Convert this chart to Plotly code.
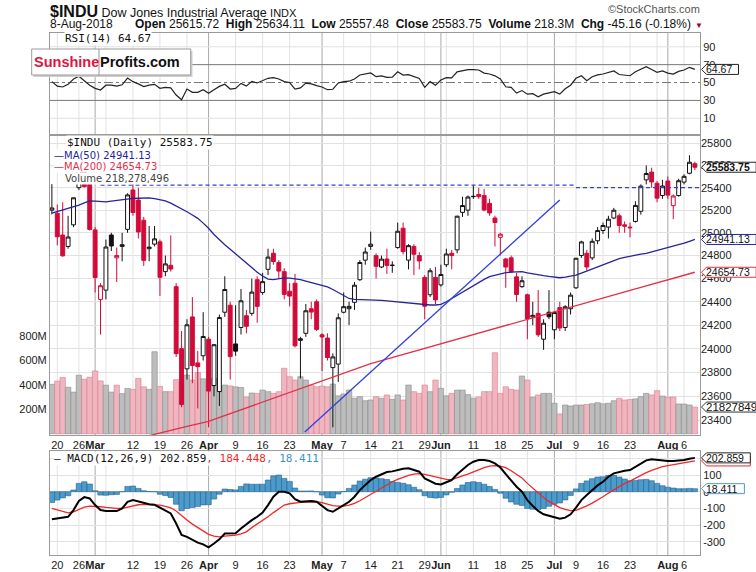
import math
import plotly.graph_objects as go

# $INDU daily bars, 16-Feb-2018 .. 8-Aug-2018
OPEN = [25200, 25172, 24980, 24880, 25070, 25400, 25710, 25430, 25025, 24420,
        24500, 24980, 24780, 24880, 25030, 25380, 25290, 25110, 24860, 24900,
        24920, 24660, 24715, 24530, 24000, 23830, 24270, 23880, 23940, 24080,
        23690, 23640, 24310, 24370, 24040, 24180, 24280, 24300, 24590, 24480,
        24680, 24820, 24740, 24660, 24490, 24560, 24070, 24130, 24340, 24400,
        24117, 24090, 23840, 23870, 24310, 24340, 24395, 24590, 24760, 24880,
        24800, 24700, 24770, 24715, 24870, 25040, 24760, 24880, 24800, 24610,
        24460, 24610, 24545, 24720, 24820, 24850, 25180, 25200, 25320, 25340,
        25330, 25260, 25130, 24960, 24770, 24780, 24615, 24530, 24460, 24270,
        24300, 24080, 24310, 24160, 24350, 24180, 24340, 24520, 24800, 24820,
        24780, 24930, 25020, 25050, 25130, 25150, 25070, 25050, 25100, 25190,
        25470, 25540, 25440, 25330, 25460, 25240, 25330, 25450, 25530, 25615.72]
HIGH = [25432, 25250, 25270, 25150, 25310, 25710, 25800, 25500, 25050, 24560,
        24940, 25000, 24870, 25000, 25350, 25450, 25400, 25140, 25060, 25060,
        24940, 24800, 24977, 24560, 24150, 24250, 24440, 23980, 24310, 24100,
        24040, 24290, 24620, 24400, 24370, 24510, 24330, 24600, 24620, 24650,
        24860, 24860, 24760, 24690, 24560, 24640, 24100, 24380, 24400, 24420,
        24130, 24130, 23960, 24300, 24480, 24400, 24570, 24760, 24870, 25010,
        24820, 24800, 24860, 24750, 25090, 25090, 24900, 24900, 24830, 24630,
        24690, 24700, 24720, 24860, 24850, 25150, 25320, 25330, 25420, 25400,
        25390, 25300, 25150, 25000, 24780, 24800, 24650, 24620, 24470, 24400,
        24500, 24250, 24500, 24320, 24400, 24370, 24480, 24780, 24930, 24850,
        24950, 25050, 25090, 25150, 25220, 25170, 25100, 25090, 25280, 25430,
        25600, 25580, 25460, 25470, 25500, 25340, 25480, 25520, 25692, 25634.11]
LOW = [25163, 24890, 24790, 24860, 25050, 25380, 25400, 25020, 24480, 24120,
       24420, 24840, 24570, 24750, 25000, 25150, 24950, 24710, 24750, 24880,
       24450, 24620, 24660, 23930, 23510, 23740, 23710, 23500, 23900, 23344,
       23600, 23520, 24270, 23740, 23940, 24120, 24130, 24280, 24220, 24460,
       24630, 24720, 24600, 24420, 24360, 24010, 23750, 24100, 24250, 24150,
       23810, 23900, 23344, 23720, 24300, 24200, 24330, 24580, 24720, 24850,
       24600, 24690, 24640, 24650, 24860, 24810, 24680, 24630, 24680, 24250,
       24440, 24380, 24530, 24700, 24680, 24820, 25140, 25150, 25300, 25300,
       25190, 25150, 24880, 24800, 24520, 24650, 24400, 24520, 24080, 24200,
       24100, 23990, 24250, 24080, 24150, 24150, 24290, 24510, 24780, 24670,
       24760, 24900, 24990, 24950, 25120, 25000, 25000, 24960, 25090, 25160,
       25430, 25400, 25270, 25300, 25300, 25120, 25320, 25430, 25520, 25557.48]
CLOSE = [25219.38, 24964.75, 24797.78, 24962.48, 25309.99, 25709.27, 25410.03, 25029.20, 24608.98, 24538.06,
         24874.76, 24884.12, 24801.36, 24895.21, 25335.74, 25178.61, 25007.03, 24758.12, 24873.66, 24946.51,
         24610.91, 24727.27, 24682.31, 23957.89, 23533.20, 24202.60, 23857.71, 23848.42, 24103.11, 23644.19,
         24033.36, 24264.30, 24505.22, 23932.76, 23979.10, 24408.00, 24189.45, 24483.05, 24360.14, 24573.04,
         24786.63, 24748.07, 24664.89, 24462.94, 24448.69, 24024.13, 24083.83, 24322.34, 24311.19, 24163.15,
         24099.05, 23924.98, 23930.15, 24262.51, 24357.32, 24360.21, 24542.54, 24739.53, 24831.17, 24899.41,
         24706.41, 24768.93, 24713.98, 24715.09, 25013.29, 24834.41, 24886.81, 24811.76, 24753.09, 24361.45,
         24667.78, 24415.84, 24635.21, 24813.69, 24799.98, 25146.39, 25241.41, 25316.53, 25322.31, 25320.73,
         25201.20, 25175.31, 25090.48, 24987.47, 24700.21, 24657.80, 24461.70, 24580.89, 24252.80, 24283.11,
         24117.59, 24216.05, 24271.41, 24307.18, 24174.82, 24356.74, 24456.48, 24776.59, 24919.66, 24700.45,
         24924.89, 25019.41, 25064.36, 25119.89, 25199.29, 25064.50, 25058.12, 25044.29, 25241.94, 25414.10,
         25527.07, 25451.06, 25306.83, 25415.19, 25333.82, 25326.16, 25462.58, 25502.18, 25628.91, 25583.75]
PREV_CLOSE = 25200.37  # close of the bar before the first one shown

# volume in millions
VOLUME_M = [404, 430, 460, 380, 340, 478, 446, 462, 513, 432,
            397, 340, 397, 328, 370, 363, 453, 384, 363, 670,
            387, 344, 344, 442, 413, 480, 439, 500, 449, 415,
            453, 384, 398, 391, 383, 378, 300, 333, 330, 357,
            344, 330, 344, 535, 466, 439, 466, 439, 398, 384,
            390, 384, 406, 310, 325, 357, 290, 303, 270, 276,
            303, 290, 317, 282, 317, 276, 398, 344, 330, 398,
            344, 439, 371, 310, 330, 357, 357, 320, 290, 300,
            344, 344, 662, 330, 384, 363, 357, 472, 439, 298,
            317, 330, 330, 249, 162, 235, 227, 235, 235, 240,
            245, 254, 245, 249, 270, 290, 276, 280, 285, 303,
            330, 317, 352, 308, 300, 300, 243, 243, 235, 218.278496]

MA50 = [25174, 25187, 25200, 25213, 25226, 25245, 25264, 25282, 25280, 25276,
        25273, 25280, 25287, 25294, 25301, 25304, 25306, 25308, 25309, 25302,
        25292, 25282, 25262, 25238, 25214, 25186, 25157, 25127, 25085, 25040,
        24985, 24936, 24895, 24855, 24815, 24775, 24730, 24690, 24655, 24622,
        24595, 24590, 24600, 24605, 24603, 24598, 24590, 24578, 24566, 24555,
        24542, 24528, 24505, 24477, 24450, 24428, 24420, 24419, 24419, 24420,
        24416, 24412, 24407, 24402, 24397, 24391, 24386, 24381, 24377, 24373,
        24372, 24372, 24378, 24400, 24428, 24458, 24487, 24515, 24544, 24569,
        24593, 24617, 24630, 24641, 24651, 24655, 24658, 24660, 24650, 24640,
        24632, 24625, 24618, 24611, 24607, 24612, 24620, 24630, 24648, 24666,
        24684, 24703, 24722, 24742, 24761, 24773, 24785, 24796, 24804, 24812,
        24819, 24831, 24843, 24854, 24867, 24880, 24892, 24908, 24925, 24941.13]
MA200 = [23080, 23091, 23102, 23113, 23124, 23135, 23146, 23157, 23168, 23179,
         23190, 23201, 23212, 23223, 23234, 23245, 23256, 23267, 23278, 23290,
         23300, 23310, 23320, 23331, 23341, 23352, 23362, 23372, 23383, 23393,
         23409, 23425, 23441, 23457, 23473, 23490, 23506, 23522, 23538, 23555,
         23571, 23587, 23603, 23620, 23636, 23652, 23668, 23684, 23701, 23717,
         23733, 23749, 23766, 23782, 23798, 23814, 23831, 23848, 23861, 23874,
         23887, 23900, 23913, 23926, 23939, 23952, 23965, 23978, 23991, 24004,
         24017, 24030, 24043, 24056, 24069, 24082, 24095, 24108, 24121, 24134,
         24147, 24160, 24173, 24186, 24199, 24212, 24225, 24238, 24251, 24264,
         24277, 24290, 24303, 24316, 24329, 24342, 24355, 24368, 24381, 24394,
         24407, 24420, 24433, 24446, 24459, 24472, 24485, 24498, 24511, 24524,
         24537, 24550, 24563, 24576, 24589, 24602, 24615, 24628, 24641, 24654.73]

RSI = [51, 46, 45, 48, 54, 57, 52, 47, 43.5, 41.6,
       47, 47, 46, 47.5, 55, 51, 48.5, 45.5, 47, 48,
       43.5, 44.6, 44, 36, 30.7, 42.7, 39, 39, 42, 37.9,
       42, 45.7, 48, 42.7, 43.5, 49, 46, 51.3, 49.5, 52.5,
       54.7, 55.4, 54, 51, 50, 42.7, 44, 49.4, 48.5, 46.5,
       45, 42, 42.5, 49.5, 51, 51.5, 54, 58.4, 59.5, 60.7,
       56.5, 57.5, 55.8, 56, 62, 58.4, 58.8, 56.5, 54.5, 44.6,
       51, 47, 52.8, 55.5, 55.2, 62, 63.5, 64.5, 64.5, 64,
       60.5, 59.5, 57.5, 54, 45.3, 44.5, 38.2, 41, 37, 37.5,
       34, 37, 38.5, 39.7, 37, 43, 47, 54.7, 57.6, 52,
       56.5, 58.5, 59.5, 61, 63, 59, 58.5, 57.6, 62, 65,
       67.8, 64.5, 61.5, 63, 60.5, 59.5, 62.5, 64, 67, 64.67]

MACD = [-165, -160, -157, -150, -110, -55, -32, -40, -80, -110,
        -115, -116, -116, -100, -60, -50, -58, -70, -75, -78,
        -95, -110, -130, -190, -259, -270, -289, -305, -315, -333,
        -310, -285, -250, -250, -249, -220, -193, -170, -150, -125,
        -80, -30, 0, 0, -10, -45, -60, -58, -56, -60,
        -85, -110, -120, -100, -85, -60, -30, 10, 40, 70,
        90, 105, 118, 122, 130, 138, 140, 132, 120, 80,
        62, 48, 44, 55, 70, 105, 135, 160, 180, 190,
        190, 184, 170, 145, 105, 65, 30, 0, -50, -85,
        -115, -135, -145, -153, -162, -155, -135, -95, -50, -20,
        10, 38, 60, 90, 110, 120, 126, 130, 150, 170,
        188, 194, 190, 186, 184, 184, 185, 190, 198, 202.859]
SIGNAL = [-100, -110, -120, -126, -120, -105, -92, -86, -86, -90,
          -94, -98, -100, -100, -92, -84, -78, -76, -76, -78,
          -80, -87, -96, -115, -145, -170, -194, -216, -236, -255,
          -266, -270, -266, -263, -260, -252, -240, -215, -195, -170,
          -150, -125, -100, -80, -72, -67, -64, -62, -61, -60,
          -65, -74, -83, -86, -86, -80, -70, -54, -35, -14,
          7, 27, 45, 60, 74, 87, 98, 105, 108, 104,
          96, 86, 78, 74, 73, 86, 95, 105, 120, 134,
          145, 153, 156, 154, 144, 126, 105, 82, 50, 20,
          -8, -35, -58, -78, -95, -106, -113, -112, -100, -85,
          -68, -50, -30, -8, 12, 32, 50, 64, 82, 98,
          114, 128, 140, 150, 157, 162, 167, 172, 178, 184.448]
HIST = [-65, -50, -37, -24, 10, 50, 60, 46, 6, -20,
        -21, -18, -16, 0, 32, 34, 20, 6, 1, 0,
        -15, -23, -34, -75, -114, -100, -95, -89, -79, -78,
        -44, -15, 16, 13, 11, 32, 47, 45, 45, 45,
        70, 95, 100, 80, 62, 22, 4, 4, 5, 0,
        -20, -36, -37, -14, 1, 20, 40, 64, 75, 84,
        83, 78, 73, 62, 56, 51, 42, 27, 12, -24,
        -34, -38, -34, -19, -3, 19, 40, 55, 60, 56,
        45, 31, 14, -9, -39, -61, -75, -82, -100, -105,
        -107, -100, -87, -75, -67, -49, -22, 17, 50, 65,
        78, 88, 90, 98, 98, 88, 76, 66, 68, 72,
        74, 66, 50, 36, 27, 22, 18, 18, 20, 18.411]

TICK_POS = [1, 5, 8, 15, 20, 25, 29, 34, 39, 44, 50, 54, 59, 64, 69,
            72, 78, 83, 88, 93, 97, 102, 107, 114, 117]
TICK_TEXT = ["20", "26", "<b>Mar</b>", "12", "19", "26", "<b>Apr</b>", "9", "16", "23",
             "<b>May</b>", "7", "14", "21", "29", "<b>Jun</b>", "11", "18", "25",
             "<b>Jul</b>", "9", "16", "23", "<b>Aug</b>", "6"]
WEEK_POS = [1, 5, 10, 15, 20, 25, 34, 39, 44, 54, 59, 64, 69, 73, 78, 83, 88,
            97, 102, 107, 112, 117]
MONTH_POS = [8, 29, 50, 72, 93, 114]
PRICE_TICKS = [23400, 23600, 23800, 24000, 24200, 24400, 24600, 24800,
               25000, 25200, 25400, 25600, 25800]
VOL_TICKS = [200, 400, 600, 800]
RSI_TICKS = [10, 30, 50, 70, 90]
MACD_TICKS = [-300, -200, -100, 0, 100, 200]

# drawn lines on the price panel
TREND_X = [46.8, 94.0]
TREND_Y = [23306, 25290]
RES_X = [9, 97, None, 97, 121]
RES_Y = [25424, 25424, None, 25400, 25400]

SANS = "Liberation Sans, Arial, sans-serif"
MONO = "DejaVu Sans Mono, monospace"
DEJA = "DejaVu Sans, Verdana, sans-serif"
RED = "#d20a3a"
BLACK = "#111111"
NAVY = "#25259a"
MA_RED = "#e2304a"
BLUE = "#2f3fe0"
STEEL = "#4b9bcc"
GRID = "#e2e2e2"
EDGE = "#9a9a9a"

W, H = 756, 572
L, R, T, B = 50, 700, 33, 555   # plot frame in page pixels


def px(x):
    return (x - L) / (R - L)


def py(y):
    return (B - y) / (B - T)


N = len(CLOSE)
IDX = list(range(N))
prev = [PREV_CLOSE] + CLOSE[:-1]

fig = go.Figure()

# volume (base axis of the price panel so it sits under the candles)
vol_up = [CLOSE[i] >= prev[i] for i in IDX]
fig.add_trace(go.Bar(
    x=IDX, y=VOLUME_M, width=1, xaxis="x2", yaxis="y2",
    marker=dict(color=["#bdbdbd" if u else "#efb6c0" for u in vol_up],
                line=dict(color=["#8a8a8a" if u else "#d9808f" for u in vol_up], width=0.6)),
    hoverinfo="skip"))

# candles: hollow when close>=open, red when close<previous close
groups = {}
for i in IDX:
    groups.setdefault((CLOSE[i] >= OPEN[i], CLOSE[i] >= prev[i]), []).append(i)
for (hollow, up), ids in groups.items():
    col = BLACK if up else RED
    style = dict(line=dict(color=col, width=1), fillcolor="white" if hollow else col)
    fig.add_trace(go.Candlestick(
        x=ids, open=[OPEN[i] for i in ids], high=[HIGH[i] for i in ids],
        low=[LOW[i] for i in ids], close=[CLOSE[i] for i in ids],
        increasing=style, decreasing=style, whiskerwidth=0,
        xaxis="x2", yaxis="y3", hoverinfo="skip"))

fig.add_trace(go.Scatter(x=IDX, y=MA50, mode="lines", line=dict(color=NAVY, width=1.3),
                         xaxis="x2", yaxis="y3", hoverinfo="skip"))
fig.add_trace(go.Scatter(x=IDX, y=MA200, mode="lines", line=dict(color=MA_RED, width=1.3),
                         xaxis="x2", yaxis="y3", hoverinfo="skip"))
fig.add_trace(go.Scatter(x=RES_X, y=RES_Y, mode="lines", line=dict(color=BLUE, width=1.2, dash="4px,3px"),
                         xaxis="x2", yaxis="y3", hoverinfo="skip"))
fig.add_trace(go.Scatter(x=TREND_X, y=TREND_Y, mode="lines", line=dict(color=BLUE, width=1.3),
                         xaxis="x2", yaxis="y3", hoverinfo="skip"))

# RSI
fig.add_trace(go.Scatter(x=IDX, y=RSI, mode="lines", line=dict(color="#222", width=1.2),
                         xaxis="x", yaxis="y", hoverinfo="skip"))

# MACD
fig.add_trace(go.Bar(x=IDX, y=HIST, width=1, xaxis="x3", yaxis="y4",
                     marker=dict(color=STEEL, line=dict(color="#2a5f88", width=0.6)),
                     hoverinfo="skip"))
fig.add_trace(go.Scatter(x=IDX, y=SIGNAL, mode="lines", line=dict(color="#f02828", width=1.3),
                         xaxis="x3", yaxis="y4", hoverinfo="skip"))
fig.add_trace(go.Scatter(x=IDX, y=MACD, mode="lines", line=dict(color="#000", width=2),
                         xaxis="x3", yaxis="y4", hoverinfo="skip"))

XR = [-0.35, 119.95]
tickfont = dict(family=SANS, size=11, color="#222")
xcommon = dict(range=XR, tickvals=TICK_POS, ticktext=TICK_TEXT, showgrid=False, tickangle=0,
               showline=True, mirror=True, linecolor=EDGE, zeroline=False, ticks="",
               tickfont=tickfont, automargin=False, fixedrange=True)
ycommon = dict(showline=True, mirror=True, linecolor=EDGE, zeroline=False, ticks="",
               tickfont=tickfont, automargin=False, fixedrange=True)

d_rsi = [py(135), 1]
d_main = [py(435), py(135)]
d_macd = [0, py(450.5)]

fig.update_layout(
    template="none", width=W, height=H, showlegend=False, hovermode=False,
    margin=dict(l=L, r=W - R, t=T, b=H - B, pad=0),
    paper_bgcolor="white", plot_bgcolor="white",
    boxgap=0.15, boxgroupgap=0.15, barmode="overlay",
    xaxis=dict(xcommon, anchor="y", showticklabels=False),
    xaxis2=dict(xcommon, anchor="y2", rangeslider=dict(visible=False)),
    xaxis3=dict(xcommon, anchor="y4"),
    yaxis=dict(ycommon, domain=d_rsi, range=[-8.7, 105.4], side="right", anchor="x",
               tickvals=RSI_TICKS, ticktext=[str(v) for v in RSI_TICKS], showgrid=False),
    yaxis2=dict(ycommon, domain=d_main, range=[-10, 2440], side="left", anchor="x2",
                tickvals=VOL_TICKS, ticktext=[f"{v}M" for v in VOL_TICKS], showgrid=False),
    yaxis3=dict(ycommon, overlaying="y2", anchor="x2", side="right", type="log",
                range=[math.log10(23281), math.log10(25876)], showline=False,
                tickvals=PRICE_TICKS, ticktext=[str(v) for v in PRICE_TICKS],
                showgrid=True, gridcolor=GRID),
    yaxis4=dict(ycommon, domain=d_macd, range=[-379, 247], side="right", anchor="x3",
                tickvals=MACD_TICKS, ticktext=[str(v) for v in MACD_TICKS], showgrid=True, gridcolor=GRID),
)

# vertical grid: weekly light lines, darker month lines, in every panel
for xr, yr in (("x", "y"), ("x2", "y2"), ("x3", "y4")):
    for w in WEEK_POS:
        fig.add_shape(type="line", xref=xr, yref=f"{yr} domain", x0=w, x1=w, y0=0, y1=1,
                      line=dict(color=GRID, width=1), layer="below")
    for m in MONTH_POS:
        fig.add_shape(type="line", xref=xr, yref=f"{yr} domain", x0=m, x1=m, y0=0, y1=1,
                      line=dict(color="#a9a9a9", width=1), layer="below")

# RSI guide lines
for lvl in (90, 10):
    fig.add_shape(type="line", xref="x domain", yref="y", x0=0, x1=1, y0=lvl, y1=lvl,
                  line=dict(color=GRID, width=1), layer="below")
for lvl in (70, 30):
    fig.add_shape(type="line", xref="x domain", yref="y", x0=0, x1=1, y0=lvl, y1=lvl,
                  line=dict(color="#777", width=1), layer="below")
fig.add_shape(type="line", xref="x domain", yref="y", x0=0, x1=1, y0=50, y1=50,
              line=dict(color="#777", width=1, dash="dashdot"), layer="below")


def value_box(yref, y_shape, y_text, text, edge, bold=False, color="#111", show_text=True, size=10.5):
    w = 9 + 5.9 * len(text)
    fig.add_shape(type="path", xref="paper", yref=yref, xsizemode="pixel", ysizemode="pixel",
                  xanchor=1, yanchor=y_shape,
                  path=f"M 1.5,0 L 6.5,5 L {w},5 L {w},-5 L 6.5,-5 Z",
                  fillcolor="white", line=dict(color=edge, width=1), layer="above")
    if show_text:
        fig.add_annotation(xref="paper", x=1, xshift=5, xanchor="left", yref=yref, y=y_text,
                           yanchor="middle", showarrow=False, borderpad=0,
                           text=f"<b>{text}</b>" if bold else text,
                           font=dict(family=SANS, size=size, color=color))


value_box("y", 64.67, 64.67, "64.67", "#222")
value_box("y3", CLOSE[-1], math.log10(CLOSE[-1]), "25583.75", "#222", bold=True)
value_box("y3", MA50[-1], math.log10(MA50[-1]), "24941.13", NAVY)
value_box("y3", MA200[-1], math.log10(MA200[-1]), "24654.73", MA_RED)
value_box("y2", VOLUME_M[-1], VOLUME_M[-1], "218278496", "#333", size=11.5)
# the signal tag sits underneath the MACD tag, only its frame peeks out
value_box("y4", SIGNAL[-1], SIGNAL[-1], "184.448", "#f02828", show_text=False)
value_box("y4", MACD[-1], MACD[-1], "202.859", "#222")
value_box("y4", HIST[-1], HIST[-1], "18.411", STEEL)


def text_at(x, y, text, size=11, color="#111", family=SANS, anchor="left", bg=None):
    fig.add_annotation(xref="paper", yref="paper", x=px(x), y=py(y), xanchor=anchor,
                       yanchor="middle", text=text, showarrow=False, borderpad=0,
                       bgcolor=bg, font=dict(family=family, size=size, color=color))


# header
text_at(49, 11, '<span style="font-size:16px"><b>$INDU</b></span> Dow Jones Industrial Average '
        '<span style="font-size:11px">INDX</span>', size=12.5)
text_at(49, 24, "8-Aug-2018", size=12)
text_at(692, 24, "<b>Open</b> 25615.72\u00a0 <b>High</b> 25634.11\u00a0 <b>Low</b> 25557.48\u00a0 "
        "<b>Close</b> 25583.75\u00a0 <b>Volume</b> 218.3M\u00a0 <b>Chg</b> -45.16 (-0.18%)",
        size=12, anchor="right")
text_at(694, 25, "\u25bc", size=8, color="#a3001f")
text_at(701, 9, "\u00a9StockCharts.com", size=11, color="#555", anchor="right")

# legends
text_at(64, 38.5, "RSI(14) 64.67", size=11, family=MONO, bg="white")
text_at(66, 142.7, "$INDU (Daily) 25583.75", size=11, family=MONO, bg="white")
text_at(53, 155, "\u2014MA(50) 24941.13", size=10, family=DEJA, color=NAVY, bg="white")
text_at(53, 166.8, "\u2014MA(200) 24654.73", size=10, family=DEJA, color=MA_RED, bg="white")
text_at(64, 178, "Volume 218,278,496", size=10, family=DEJA, color="#444", bg="white")
text_at(53, 458, '\u2014 MACD(12,26,9) 202.859<span style="color:#f02828">, 184.448</span>'
        '<span style="color:#3a95cc">, 18.411</span>', size=11, family=MONO, bg="white")

# SunshineProfits.com badge
fig.add_shape(type="rect", xref="paper", yref="paper", x0=px(33.5), x1=px(192.5), y0=py(77), y1=py(51),
              fillcolor="#cfcfcf", line=dict(width=0), layer="above")
fig.add_shape(type="rect", xref="paper", yref="paper", x0=px(31.7), x1=px(190.7), y0=py(75), y1=py(49),
              fillcolor="white", line=dict(color="#9a9a9a", width=1), layer="above")
fig.add_shape(type="line", xref="paper", yref="paper", x0=px(99), x1=px(99), y0=py(75), y1=py(49),
              line=dict(color="#9a9a9a", width=1), layer="above")
text_at(66, 62, "<b>Sunshine</b>", size=14.5, color="#e0163e", anchor="center")
text_at(140, 62, "<b>Profits.com</b>", size=14.5, color="#111", anchor="center")

# the page body's default 8px margin would push the chart off its frame
fig.write_html("out.html", config={"displayModeBar": False},
               post_script="document.body.style.margin='0px';")
